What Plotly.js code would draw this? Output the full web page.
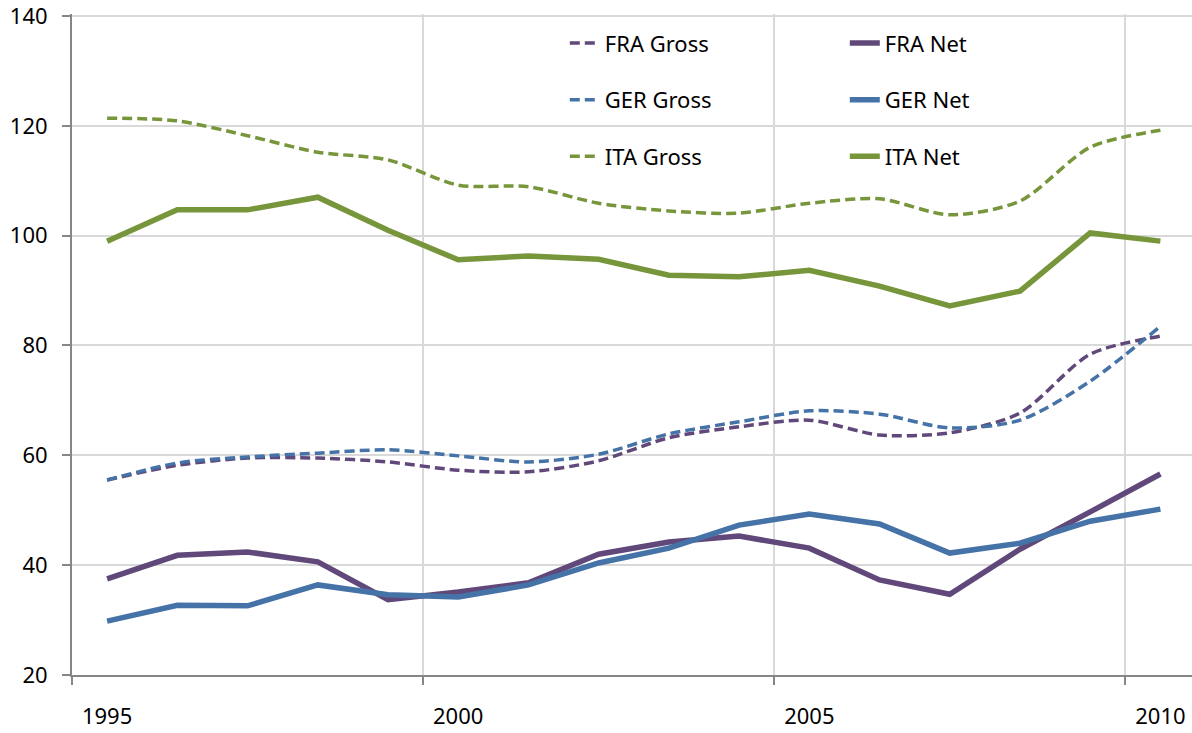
<!DOCTYPE html>
<html>
<head>
<meta charset="utf-8">
<script src="https://cdn.plot.ly/plotly-3.0.1.min.js"></script>
<style>html,body{margin:0;padding:0;background:#fff;}#chart{width:1192px;height:733px;}</style>
</head>
<body>
<div id="chart"></div>
<script>
const years = [1995,1996,1997,1998,1999,2000,2001,2002,2003,2004,2005,2006,2007,2008,2009,2010];
const tickLabels = ["1995","2000","2005","2010"];
const yTicks = [20,40,60,80,100,120,140];
const fraGross = [55.5,58.2,59.5,59.5,58.8,57.3,57.0,59.0,63.2,65.2,66.4,63.7,64.1,67.7,78.4,81.7];
const fraNet   = [37.5,41.8,42.4,40.6,33.7,35.1,36.8,42.0,44.2,45.3,43.1,37.3,34.7,42.9,49.7,56.6];
const gerGross = [55.5,58.6,59.7,60.4,61.0,59.9,58.8,60.2,63.9,66.1,68.1,67.5,65.0,66.4,73.5,83.5];
const gerNet   = [29.8,32.7,32.6,36.4,34.6,34.2,36.4,40.4,43.1,47.3,49.3,47.5,42.2,44.0,48.0,50.2];
const itaGross = [121.4,120.9,118.2,115.2,113.8,109.2,108.9,105.9,104.5,104.1,105.9,106.7,103.8,106.3,116.1,119.2];
const itaNet   = [99.0,104.7,104.7,107.0,101.0,95.6,96.3,95.7,92.8,92.5,93.7,90.8,87.2,89.9,100.5,99.0];

const C = {FRA:'#60497a', GER:'#4572a7', ITA:'#77963b'};
const idx = years.map((y,i)=>i);

function gross(name, vals, col){
  return {x: idx, y: vals, name: name, type:'scatter', mode:'lines',
    line:{color:col, width:3.5, dash:'10px,5px', shape:'spline', smoothing:0.8},
    legend:'legend', legendgroup:name, hoverinfo:'skip'};
}
function net(name, vals, col){
  return {x: idx, y: vals, name: name, type:'scatter', mode:'lines',
    line:{color:col, width:5.5},
    legend:'legend2', legendgroup:name, hoverinfo:'skip'};
}
const traces = [
  gross('FRA Gross', fraGross, C.FRA),
  gross('GER Gross', gerGross, C.GER),
  gross('ITA Gross', itaGross, C.ITA),
  net('FRA Net', fraNet, C.FRA),
  net('GER Net', gerNet, C.GER),
  net('ITA Net', itaNet, C.ITA),
  {x:[0], y:[null], xaxis:'x2', showlegend:false, hoverinfo:'skip', mode:'lines'}
];

const font = {family:'"Noto Sans", sans-serif', size:22, color:'#000'};
const legendCommon = {orientation:'v', bgcolor:'rgba(0,0,0,0)', borderwidth:0,
  font:font, tracegroupgap:25, itemwidth:30, xanchor:'left', yanchor:'top', y:0.9875};

const layout = {
  width:1192, height:733,
  margin:{l:72, r:0, t:14, b:58},
  paper_bgcolor:'#fff', plot_bgcolor:'#fff',
  font:font,
  showlegend:true,
  legend: Object.assign({x:0.44}, legendCommon),
  legend2: Object.assign({x:0.69}, legendCommon),
  xaxis:{
    range:[-0.5,15.45], tickmode:'array', tickvals:[-0.5,4.5,9.5,14.5], ticktext:['','','',''],
    showgrid:true, gridcolor:'#d9d9d9', gridwidth:2,
    ticks:'outside', ticklen:8, tickcolor:'#868686', tickwidth:2,
    showline:true, linecolor:'#868686', linewidth:2, zeroline:false, fixedrange:true
  },
  xaxis2:{
    overlaying:'x', side:'bottom', range:[-0.5,15.45], tickmode:'array',
    tickvals:[0,5,10,15], ticktext:tickLabels, showgrid:false, zeroline:false,
    ticks:'', showline:false, ticklabelstandoff:26, tickfont:font, fixedrange:true
  },
  yaxis:{
    range:[20,140.36], tickmode:'array', tickvals:yTicks,
    showgrid:true, gridcolor:'#d9d9d9', gridwidth:2,
    ticks:'outside', ticklen:8, tickcolor:'#868686', tickwidth:2,
    showline:true, linecolor:'#868686', linewidth:2, zeroline:false,
    ticklabelstandoff:10, ticklabeloverflow:'allow', tickfont:font, fixedrange:true
  }
};

Plotly.newPlot('chart', traces, layout, {displayModeBar:false, staticPlot:true});
</script>
</body>
</html>
